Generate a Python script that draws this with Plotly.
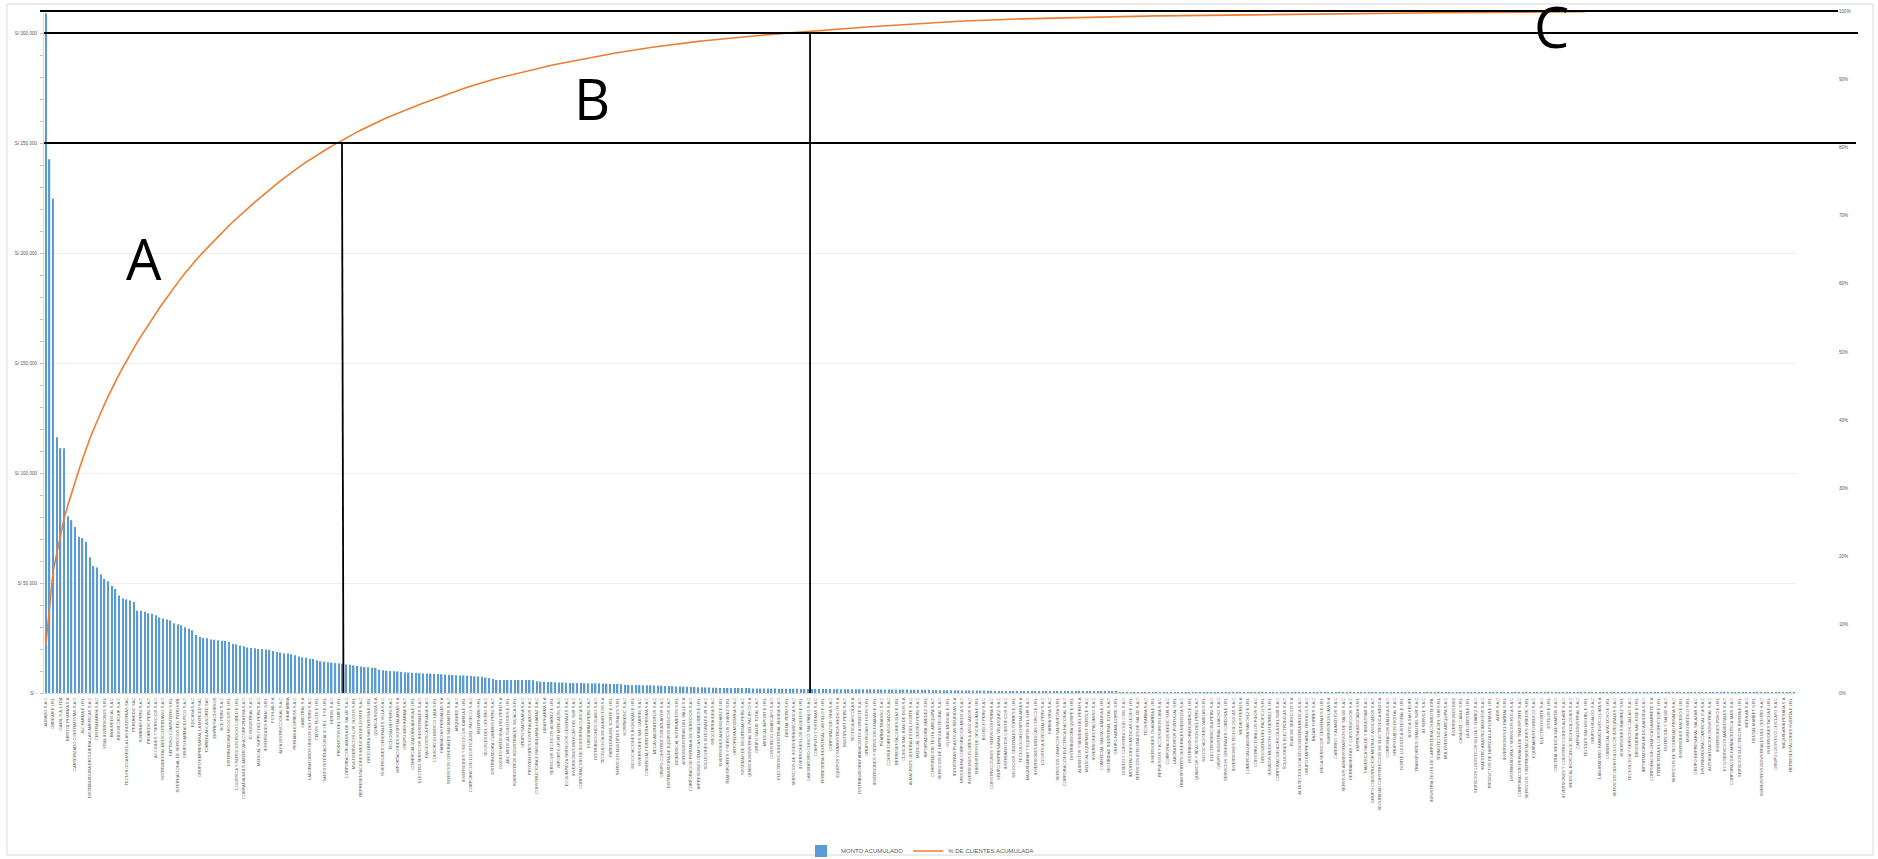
import plotly.graph_objects as go

# ---------------- DATA ----------------
monto_principales = [
    309000, 242600, 224700, 116200, 111300, 111300, 80300, 78600, 75500, 71000,
    70400, 68700, 61700, 57700, 57000, 53900, 51800, 50800, 48700, 47300,
    44300, 43000, 42600, 42100, 41400, 37400, 37400, 36900, 36200, 36000,
    35300, 34300, 33900, 33400, 33000, 31700, 31300, 30800, 29900, 29200,
    28500, 26400, 25400, 25000, 24900, 24300, 24200, 24000, 23700, 23700,
    23300, 22300, 22100, 21600, 21200, 20700, 20500, 20300, 20000, 20000,
    19800, 19600, 19100, 18600, 18400, 18100, 17900, 17600, 17200, 16600,
    16200, 16000, 15600, 15500, 14900, 14400, 14300, 14000, 13800, 13600,
    13500,
]
monto_intermedios = [
    13300, 13000, 12800, 12500, 12300, 12000, 11800, 11700, 11500, 11400,
    10600, 10300, 10100, 10000, 9900, 9800, 9600, 9400, 9300, 9200,
    9100, 9000, 8900, 8900, 8800, 8700, 8600, 8500, 8400, 8300,
    8200, 8100, 8000, 8000, 7900, 7700, 7600, 7500, 7400, 7000,
    6800, 6400, 5900, 5900, 5900, 5900, 5900, 5900, 5900, 5900,
    5900, 5900, 5800, 5300, 5200, 5100, 5000, 5000, 4900, 4800,
    4800, 4700, 4600, 4500, 4500, 4500, 4400, 4400, 4400, 4400,
    4400, 4300, 4200, 4200, 4100, 4100, 4000, 3800, 3700, 3600,
    3600, 3600, 3500, 3500, 3500, 3400, 3300, 3300, 3200, 3200,
    3100, 3000, 2900, 2900, 2800, 2700, 2700, 2600, 2600, 2500,
    2500, 2400, 2400, 2300, 2300, 2300, 2300, 2300, 2300, 2300,
    2300, 2200, 2100, 2000, 2000, 2000, 2000, 2000, 2000, 1900,
    1900, 1900, 1900, 1900, 1900, 1800, 1800, 1800, 1800,
]
monto_cola = [
    1800, 1800, 1790, 1780, 1780, 1760, 1750, 1750, 1740, 1720,
    1700, 1700, 1690, 1680, 1660, 1650, 1650, 1640, 1620, 1600,
    1600, 1590, 1580, 1560, 1550, 1540, 1520, 1510, 1500, 1480,
    1460, 1450,
    1300, 1280, 1260, 1250, 1240, 1220, 1200, 1200, 1180, 1170,
    1150, 1130, 1120, 1100, 1080, 1060, 1050,
    720, 710, 700, 690, 680, 680, 670, 660, 650, 650,
    640, 630, 620, 610, 610, 600, 590, 580, 570, 570,
    560, 550, 540, 540, 530, 520, 510, 500, 500, 490,
    480, 470, 460, 460, 450, 440, 430, 420, 410,
    390, 390, 380, 380, 370, 370, 370, 360, 360, 350,
    350, 350, 340, 340, 340, 330, 330, 330, 320, 320,
    320, 310, 310, 310, 300, 300, 300, 300, 290, 290,
    290, 290, 280, 280, 280, 280, 270, 270, 270, 270,
    260, 260, 260, 260, 250, 250, 250, 250, 250, 240,
    240, 240, 240, 240, 230, 230, 230, 230, 230, 220,
    220, 220, 220, 220, 220, 210, 210, 210, 210, 210,
    210, 200, 200, 200, 200, 200, 200, 200, 190, 190,
    190, 190, 190, 190, 190, 180, 180, 180, 180, 180,
    180, 180, 170, 170, 170, 170, 170, 170, 170, 160,
    160, 160, 160, 160, 160, 160, 150, 150, 150, 150,
    150, 150, 150, 150,
    140, 140, 140, 140, 130, 130, 130, 130, 130, 130,
    120, 120, 120, 120, 120, 120, 110, 110, 110, 110,
    110, 110, 100, 100, 100, 100, 100, 100, 100, 90,
    90, 90, 90, 90, 90, 90, 80, 80, 80, 80,
    80, 80, 80, 70, 70, 70, 70, 70, 70, 70,
    60, 60, 60, 60, 60, 60, 60, 50, 50, 50,
    50, 50, 50, 40, 40, 40,
]

# tick labels (every second client is labelled, as in the original)
clientes_etiquetados = [
    "ALMADO S.A.C", "ORDEAR E.I.R.L", "GAMIL S.A. LTDA", "BRISTOL PHARMA S.A",
    "CARTERIZADO CONTRATISTAS S.A.C", "J&C FARMA E.I.R.L",
    "DISTRIBUIDORA DROGUERIA LAS AMERICAS S.A.C", "CENTRAFARMA S.A.C",
    "VITAL INVERSIONES S.R.L", "BMA MEDICAL S.A.C", "JUNIOR GROUP S.A.C",
    "TECNOLOGIA MEDICA LAS INDUSTRIAS SAC", "PERUMEDIC SAC", "SOMBRAS PERU S.A.C",
    "PROMEDIC PERU S.A.C", "ACCIONES Y SERVICIOS S.A.C",
    "INSTRUMENTAL MEDICO PERUANO S.A.C", "NEPTUNO COMPUTERS S.R.L",
    "INTERNACIONAL DE SERVICIOS DEL PERU EIRL", "GRUPO FARMACEUTICO S.A.C",
    "EDICASA S.A.C", "GRUPO EMPRESARIAL LA MERCED SAC", "TORREBLANCA NORTE SAC",
    "EMPRESA CHIRINOS", "BCE PERU S.A.C", "DISTRIBUIDORA NEGOCIOS E.I.R.L",
    "LOGISTICA Y SERVICIOS ROCIO LOREN E.I.R.L",
    "COMPAÑIA MULTI AMERICANA CORPORATIVA S.A.C", "JC INDUSTRIAL S.A.C",
    "MEDICAL SUPPLY DEL PERU S.A.C", "INVERSIONES RIMAC S.R.L", "FICHLAB S.A",
    "ALFA INSTRUCCIONAL S.A.C", "INKAFARMA", "PERUANA EXPRESS S.A.C",
    "LABINTRAL S.A", "LABORATORIOS UNIDOS DEL PERU S.A.C", "CELVIS TEXTIL E.I.R.L",
    "SANTO INTERNACIONAL E.I.R.L - T.T.E.I.R.L", "HERSIL S.A.C",
    "PRODUCTOS DEL SUR E.I.R.L", "CORPORACION ANDINA DE SALUD S.A.C",
    "MULTISERVICIOS LOS OLIVOS S.R.L", "REPRESENTACIONES MEDICAS DEL NORTE S.A.C",
    "DROGUERIA SANTA ROSA E.I.R.L", "QUIMICA SUIZA S.A",
    "INVERSIONES GENERALES VILLA S.A.C", "TECNOSALUD PERU S.A.C",
    "IMPORTACIONES HOSPITALARIAS S.A", "GRUPO MEDIFARMA S.A.C",
    "COMERCIALIZADORA ANDINA E.I.R.L", "ELECTRO SERVICIOS INDUSTRIALES S.A.C",
    "DIAGNOSTICA PERUANA S.A.C", "CONSORCIO MEDICO LIMA S.R.L",
    "FARMACIAS PERUANAS S.A", "SERVICIOS GENERALES SAN MARTIN S.A.C",
    "ARQUIMED S.A.C", "INVERSIONES Y NEGOCIOS KARINA E.I.R.L",
    "CORPORACION LOGISTICA DEL PACIFICO S.A.C", "MEDIPHARM S.R.L",
    "TEXTILES DEL CENTRO S.A.C", "DISTRIBUIDORA CUMMINS PERU S.A.C",
    "OXIGENO MEDICINAL DEL PERU S.A", "ABC MEDICAL SOLUTIONS E.I.R.L",
    "SUMINISTROS INDUSTRIALES JULIACA S.R.L", "GRUPO SANTA ANA S.A.C",
    "PROVEEDORES HOSPITALARIOS S.A.C", "CONSTRUCTORA E INMOBILIARIA HUARAZ S.A.C",
    "LIMA PHARMA S.A", "SERVICIOS TECNICOS ALVAREZ E.I.R.L",
    "IMPORT EXPORT MERCANTIL S.A.C", "ECOLIMPIEZA SERVICIOS GENERALES S.A.C",
    "INVERSIONES MEDICAS DEL SUR S.A.C", "CORPORACION DE INGENIERIA CLINICA S.A.C",
    "EUROFARMA PERU S.A.C", "DISTRIBUCIONES OLANO S.A.C",
    "TECNOLOGIA DE ALIMENTOS S.A", "PAPELERA DEL NORTE E.I.R.L",
    "SERVICIOS MULTIPLES ROSALES S.R.L", "HOSPIMEDIC S.A.C",
    "NEGOCIACIONES JHONATAN E.I.R.L", "INVERSIONES SAN GABRIEL S.A.C",
    "COMERCIAL FERRETERA PRISMA S.A.C", "MEGA LABORATORIOS S.A.C",
    "GRUPO CONSTRUCTOR ATLANTIS S.A.C", "DISTRIBUIDORA DE EQUIPOS MEDICOS S.A.C",
    "BIOMEDICAL INSTRUMENTS S.R.L", "AGROINDUSTRIAS DEL VALLE S.A",
    "CORPORACION PERUANA DE SERVICIOS S.A.C", "IMPRESIONES GRAFICAS MIRAFLORES E.I.R.L",
    "SOLUCIONES INTEGRALES JR S.A.C", "DROGUERIA INKA S.A.C",
    "INVERSIONES ALMENDARIZ E.I.R.L", "TRANSPORTES Y SERVICIOS CHAVEZ S.R.L",
    "ORTOPEDIA MODERNA S.A.C", "SISTEMAS DE SEGURIDAD PERU S.A.C",
    "QUIMICA INDUSTRIAL DEL PACIFICO S.A", "GRUPO SALUD TOTAL S.A.C",
    "MEDICAL IMPORT E.I.R.L", "CONSORCIO HUANCAYO S.A.C",
    "ELECTRONICA INDUSTRIAL ANDINA S.A.C", "DENTAL PERU S.R.L",
    "SERVICIOS DE INGENIERIA MECANICA S.A.C", "INVERSIONES LOS ANGELES E.I.R.L",
    "LABORATORIO CLINICO SAN PABLO S.A.C", "COMPUTO Y SISTEMAS S.A.C",
    "FERRETERIA INDUSTRIAL CASTILLO E.I.R.L", "CORPORACION VIDA S.A.C",
    "EQUIPOS Y SUMINISTROS MEDICOS S.A", "MULTIPLAST PERU S.A.C",
    "TECNICA AVICOLA S.A", "DISTRIBUIDORA FARMACEUTICA ORIENTE S.A.C",
    "GRUPO ROJAS E HIJOS S.R.L", "INVERSIONES Y SERVICIOS HUAMAN E.I.R.L",
    "PHARMA TRADING S.A.C", "CONSULTORES ASOCIADOS S.A.C",
    "REPRESENTACIONES DIAZ E.I.R.L", "CLINICA SAN JUAN DE DIOS S.A",
    "ALMACENES GENERALES DEL NORTE S.A.C", "MEDICAL CENTER PERU S.A.C",
    "IMPORTADORA JIMENEZ S.R.L", "CORPORACION TEXTIL AREQUIPA S.A.C",
    "SERVICIOS DE LIMPIEZA INTEGRAL S.A.C", "GLOBAL MEDICAL E.I.R.L",
    "INDUSTRIAS PLASTICAS REUNIDAS S.A", "DROGUERIA CORPORACION MEDICA S.A.C",
    "INVERSIONES FLORES & ASOCIADOS S.A.C", "SUMINISTROS DE OFICINA LIMA E.I.R.L",
    "BIOTECH PERU S.A.C", "CONSTRUCCIONES Y SERVICIOS PIURA S.A.C",
    "GRUPO EMPRESARIAL VELASQUEZ S.A.C", "INSTRUMENTOS CIENTIFICOS S.A.C",
    "NEGOCIOS GENERALES TORRES E.I.R.L", "TECNOLOGIA HOSPITALARIA S.A",
    "MAQUINARIAS Y EQUIPOS DEL SUR S.A.C", "INVERSIONES MEDICAS CUSCO E.I.R.L",
    "LOGISTICA INTEGRAL PERU S.A.C", "FARMA VIDA S.A.C",
    "SERVICIOS GRAFICOS SANTA ROSA S.R.L", "CORPORACION ELECTRICA NACIONAL S.A.C",
    "DISTRIBUIDORA QUISPE E.I.R.L", "ALIMENTOS Y BEBIDAS DEL PERU S.A",
    "MEDICAL EQUIPMENT SERVICE S.A.C", "INVERSIONES PALOMINO S.A.C",
    "COMERCIAL SANTA CATALINA E.I.R.L", "SEGURIDAD INDUSTRIAL TOTAL S.A.C",
    "GRUPO FARMA NORTE S.R.L", "DISEÑO Y CONSTRUCCION CIVIL S.A.C",
    "IMPORTACIONES MEDICAS LEON E.I.R.L", "SERVICIOS INTEGRALES DE SALUD S.A.C",
    "TECNIFARMA S.A.C", "INVERSIONES CHAVARRIA E.I.R.L",
    "REPUESTOS Y ACCESORIOS LIMA S.A.C", "CORPORACION MEDIC SUR S.A.C",
    "LABORATORIOS PORTUGAL S.R.L", "TRANSPORTES GENERALES MENDOZA S.A.C",
    "DISTRIBUIDORA ROMERO E.I.R.L", "QUIMICOS Y REACTIVOS DEL PERU S.A.C",
    "NEGOCIACIONES VARGAS S.R.L", "ELECTROMEDICINA PERU S.A.C",
    "GRUPO INDUSTRIAL HUACHO S.A.C", "SERVICIOS GENERALES CORDOVA E.I.R.L",
    "INVERSIONES TECNOLOGICAS S.A.C", "MEDIKIT PERU S.A",
    "COMERCIALIZADORA SANCHEZ E.I.R.L", "CONSTRUCTORA LOS PINOS S.A.C",
    "DROGUERIA DEL PACIFICO S.R.L", "INSUMOS MEDICOS GUTIERREZ E.I.R.L",
    "CORPORACION AGRICOLA DEL SUR S.A.C", "SOLUCIONES ELECTRONICAS S.A.C",
    "PLAN DE SERVICIOS S.A", "ALTA TECNOLOGIA EN INGENIERIA MEDICA S.A.C",
    "GRUPO EMPRESARIAL TRUJILLO S.A.C", "BAZAR TORRES S.A.C",
    "MEGA SERVICIOS GENERALES E.I.R.L", "SUMINISTROS LIMA S.A",
    "CATERING Y ALIMENTOS S.A.C", "SERVICIOS ADMINISTRATIVOS DE SALUD S.A.C",
    "HERRAMIENTAS Y CONSTRUCCION S.A.C", "EMPRESA ASOCIADA S.R.L",
    "FAMEDICA SALUD Y BIENESTAR S.A.C", "GRUPO CONSTRUCTOR MEDINA Y ASOCIADOS S.A.C",
    "SEGURIDAD CONSTRUCCION DE ELECTRONICA MEDICA",
    "CORPORACION BALNEA S.A.C", "GRUPO DATOS DIGITAL S.A.C",
    "NORTE LOGISTICA INTEGRAL E.I.R.L", "BOTICA SAN FELIPE",
    "TRANSPORTES GRAU DEL SUR S.A.C", "AT SERVICE S.A.C",
    "INDUSTRIA TEXTIL DE CARPINTERIA CHIMBOTE EIRL",
    "TERMOTECNICA DEL SUR S.R.L", "MULTIVENTAS AREQUIPA S.A.C",
    "INVERSIONES DIEZ", "CASA DEL CABLE S.R.L", "LA FLORESTA E.I.R.L",
    "SERVICIOS LOGISTICOS ULLOA Y JUAREZ S.A.C", "MAESTRO ABASTECIMIENTOS S.A.C",
    "PRODUCTOS DE LIMPIEZA LA FLORIDA E.I.R.L", "ALBIS S.A.C",
    "INVERSIONES EL PARRAL S.R.L", "DISTRIBUIDORA Y SERVICIOS ROCA S.A.C",
    "CORPORACION PERUANA DE TRANSPORTE S.A.C",
    "SERVICIOS Y REPRESENTACIONES ORIENTE S.R.L", "EQUIPAMIENTO MEDICO S.A.C",
    "ELECTRO NORTE S.A.C", "ESTILOS E.I.R.L", "CENTRAL MEDICA SAN MARTIN S.A.C",
    "INVERSIONES Y CONSTRUCCIONES ALDAVE S.A.C",
    "MEDICAL BIOSCIENCE TECHNOLOGIES S.A.C", "CARSA INDUSTRIAL S.A.C",
    "TEXTILES SAN MIGUEL E.I.R.L", "GRUPO HIDALGO S.A.C",
    "LABORATORIO FARMACEUTICO LIMA S.A", "COMERCIAL AYACUCHO E.I.R.L",
    "SERVICIOS ODONTOLOGICOS INTEGRALES S.A.C", "INVERSIONES RAMIREZ S.R.L",
    "TECNOLOGIA Y SERVICIOS CALLAO S.A.C", "DROGUERIA SAN JOSE E.I.R.L",
    "IMPORTADORA MEDICA ANDINA S.A.C", "CORPORACION GRAFICA NAVARRETE S.A",
    "FERRETERIA EL CONSTRUCTOR E.I.R.L", "NUTRICION Y SALUD S.A.C",
    "SERVICIOS DE SEGURIDAD PRIVADA S.A.C", "INVERSIONES MACEDO E.I.R.L",
    "MUNDO MEDICO S.R.L", "GRUPO EMPRESARIAL SALAZAR S.A.C",
    "DISTRIBUIDORA COMERCIAL ICA S.A.C", "AUTOMATIZACION INDUSTRIAL S.A.C",
    "INVERSIONES PUNO E.I.R.L", "ECO SERVICIOS AMBIENTALES S.A.C",
    "CORPORACION FARMACEUTICA JAEN S.A.C", "SERVICIOS ELECTRICOS RIVERA E.I.R.L",
    "MEDILAB S.A.C", "DENTAL MARKET S.R.L",
    "SUMINISTROS INDUSTRIALES DEL CENTRO S.A.C", "INVERSIONES TACNA E.I.R.L",
    "GRUPO LOGISTICO CHICLAYO S.A.C", "MAQUINARIA PESADA S.A",
    "REPRESENTACIONES HUERTA E.I.R.L",
]

y_ticks = [0, 50000, 100000, 150000, 200000, 250000, 300000]
y_ticktext = ["S/ -", "S/ 50,000", "S/ 100,000", "S/ 150,000", "S/ 200,000",
              "S/ 250,000", "S/ 300,000"]
pct_ticks = [0, 0.1, 0.2, 0.3, 0.4, 0.5, 0.6, 0.7, 0.8, 0.9, 1.0]
pct_ticktext = ["0%", "10%", "20%", "30%", "40%", "50%", "60%", "70%", "80%",
                "90%", "100%"]

serie_barras = "MONTO ACUMULADO"
serie_linea = "% DE CLIENTES ACUMULADA"

# zone markers (category positions and levels of the drawn guide lines)
corte_a = 81          # client index where zone A ends
corte_b = 208.5       # client index where zone B ends
nivel_a = 250000      # horizontal guide (left axis)
nivel_b = 300000      # horizontal guide (left axis)
puntos_curva = 421    # the cumulative curve stops here in the original
Y_MAX = 310000

# ---------------- BUILD ----------------
monto = monto_principales + monto_intermedios + monto_cola
N = len(monto)
xs = list(range(N))
total = sum(monto)
acum = []
s = 0
for v in monto:
    s += v
    acum.append(s / total)

tickvals = list(range(0, N, 2))[:len(clientes_etiquetados)]

W, H = 1878, 859
ML, MR, MT, MB = 44, 82, 11, 166
PW, PH = W - ML - MR, H - MT - MB


def px_x(p):
    return (p - ML) / PW


def px_y(p):
    return (H - MB - p) / PH


fig = go.Figure()
fig.add_trace(go.Bar(
    x=xs, y=monto, name=serie_barras, marker=dict(color="#5B9BD5", line_width=0),
    width=0.4, hoverinfo="skip",
))
fig.add_trace(go.Scatter(
    x=xs[:puntos_curva], y=acum[:puntos_curva], name=serie_linea, yaxis="y2",
    mode="lines", line=dict(color="#ED7D31", width=1.6), hoverinfo="skip",
))

black = dict(color="black", width=2.2)
shapes = [
    dict(type="rect", xref="paper", yref="paper", x0=px_x(7), x1=px_x(1873),
         y0=px_y(855), y1=px_y(4), line=dict(color="#D9D9D9", width=1), layer="below"),
    dict(type="line", xref="paper", yref="paper", x0=px_x(40), x1=px_x(1838),
         y0=1, y1=1, line=black),
    dict(type="line", xref="paper", yref="paper", x0=0, x1=px_x(1858),
         y0=nivel_b / Y_MAX, y1=nivel_b / Y_MAX, line=black),
    dict(type="line", xref="paper", yref="paper", x0=0, x1=px_x(1856),
         y0=nivel_a / Y_MAX, y1=nivel_a / Y_MAX, line=black),
    dict(type="line", xref="x", yref="paper", x0=corte_a + 0.2, x1=corte_a - 0.2,
         y0=0, y1=nivel_a / Y_MAX, line=dict(color="black", width=1.8)),
    dict(type="line", xref="x", yref="paper", x0=corte_b, x1=corte_b,
         y0=0, y1=nivel_b / Y_MAX, line=dict(color="black", width=1.8)),
]

letra = dict(family="Open Sans, Noto Sans, sans-serif", size=56, color="black")
annotations = [
    dict(text="A", x=26.8, y=197700, xref="x", yref="y", showarrow=False,
         font=letra, xanchor="center", yanchor="middle"),
    dict(text="B", x=149, y=270500, xref="x", yref="y", showarrow=False,
         font=letra, xanchor="center", yanchor="middle"),
    dict(text="C", x=410.7, y=303000, xref="x", yref="y", showarrow=False,
         font=letra, xanchor="center", yanchor="middle"),
]

small = dict(family="Liberation Sans, Arial, sans-serif", size=4.6, color="#595959")

fig.update_layout(
    width=W, height=H,
    margin=dict(l=ML, r=MR, t=MT, b=MB, pad=0, autoexpand=False),
    paper_bgcolor="white", plot_bgcolor="white",
    showlegend=True,
    legend=dict(orientation="h", x=0.5, xanchor="center", y=px_y(851),
                yanchor="middle", font=dict(family="Liberation Sans, Arial, sans-serif",
                                            size=6, color="#595959"),
                itemwidth=30, bgcolor="rgba(0,0,0,0)"),
    xaxis=dict(range=[-0.5, N - 0.5], tickmode="array", tickvals=tickvals,
               ticktext=clientes_etiquetados, tickangle=-90,
               tickfont=dict(small, size=4.1),
               showgrid=False, zeroline=False, showline=True, linecolor="#D9D9D9",
               linewidth=1, ticks="", ticklabelstandoff=2, fixedrange=True,
               automargin=False),
    yaxis=dict(range=[0, Y_MAX], tickmode="array", tickvals=y_ticks,
               ticktext=y_ticktext, tickfont=small, showgrid=True,
               gridcolor="#EDEDED", gridwidth=1, zeroline=False, showline=True,
               linecolor="#D9D9D9", linewidth=1, ticks="outside", ticklen=3,
               tickcolor="#BFBFBF", ticklabelstandoff=2, automargin=False,
               minor=dict(dtick=10000, tick0=0, ticks="outside", ticklen=3,
                          tickcolor="#BFBFBF", showgrid=False)),
    yaxis2=dict(range=[0, 1], overlaying="y", side="right", tickmode="array",
                tickvals=pct_ticks, ticktext=pct_ticktext, tickfont=small,
                showgrid=False, zeroline=False, showline=False, ticks="",
                ticklabelstandoff=42, automargin=False),
    shapes=shapes,
    annotations=annotations,
)

fig.write_html("out.html",
               config={"displayModeBar": False, "staticPlot": False},
               post_script="document.body.style.margin='0px';"
                           "document.body.style.overflow='hidden';")
